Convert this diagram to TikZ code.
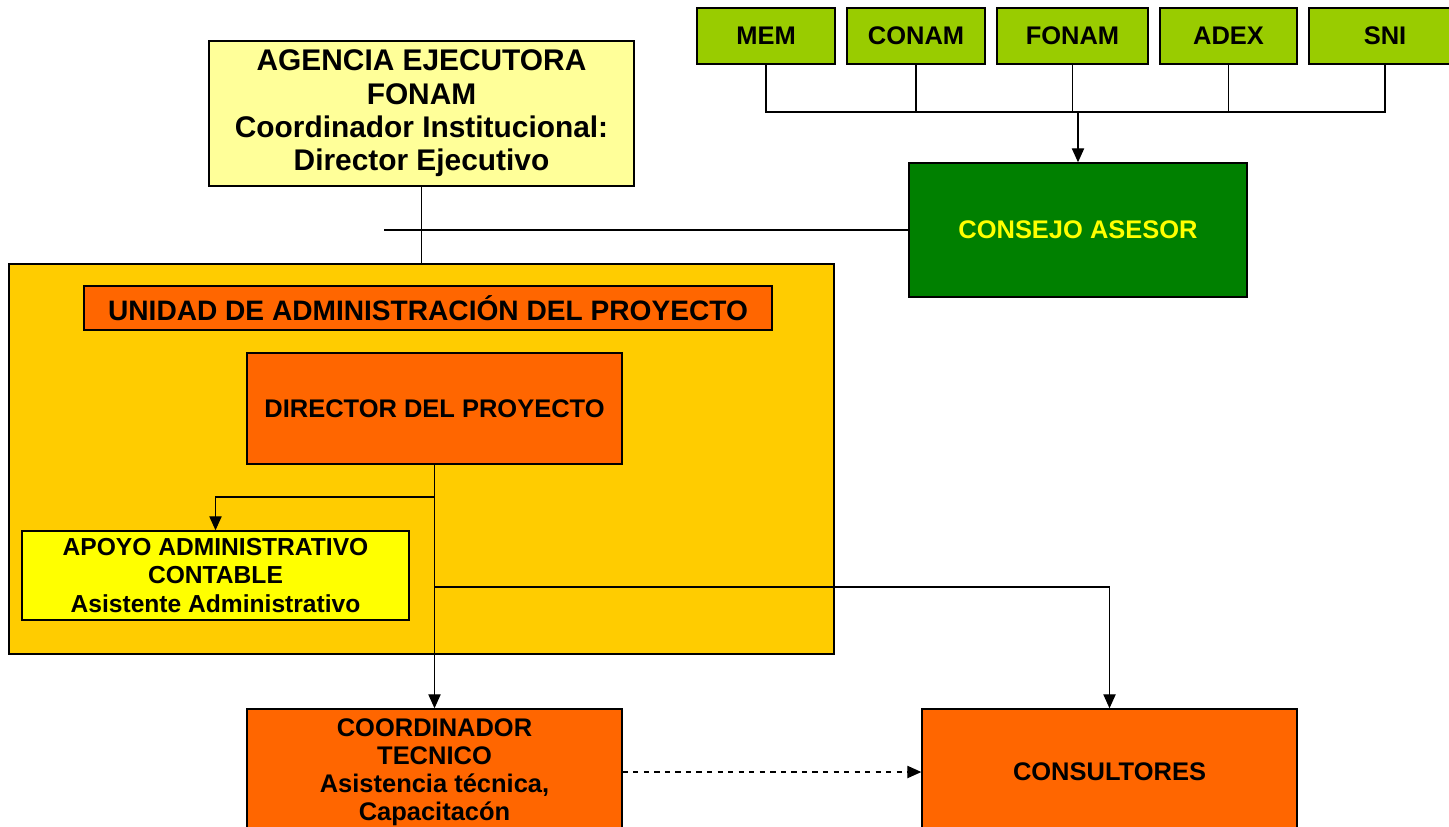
\documentclass[tikz,border=0pt]{standalone}
\usepackage{fontspec}
\setmainfont{Liberation Sans}
\usepackage{tikz}
\usetikzlibrary{positioning,arrows.meta,shapes,calc}

\definecolor{myorange}{RGB}{255,102,0}
\definecolor{mygold}{RGB}{255,204,0}
\definecolor{mylime}{RGB}{153,204,0}
\definecolor{mygreen}{RGB}{0,128,0}
\definecolor{mycream}{RGB}{255,255,153}
\definecolor{myyellow}{RGB}{255,255,0}

\begin{document}
\begin{tikzpicture}[
x=0.02cm, y=-0.02cm,
mybox/.style={
  draw=black,
  line width=0.8pt,
  align=center,
  inner sep=2pt,
  font=\fontsize{14.5}{16}\selectfont\bfseries},
mytop/.style={
  mybox,
  fill=mylime,
  minimum height=1.12cm},
myline/.style={
  line width=0.8pt},
myarrow/.style={
  myline,
  -{Triangle[length=8pt,width=7pt]}}
]
\useasboundingbox (0,0) rectangle (1449,827);
\clip (0,0) rectangle (1449,827);
% members of the council
\node[mytop, minimum width=2.76cm] (MEM) at (766,36) {MEM};
\node[mytop, minimum width=2.76cm] (CONAM) at (916,36) {CONAM};
\node[mytop, minimum width=3.02cm] (FONAM) at (1072.5,36) {FONAM};
\node[mytop, minimum width=2.74cm] (ADEX) at (1228.5,36) {ADEX};
\node[mytop, minimum width=3.04cm] (SNI) at (1385,36) {SNI};
\node[mybox, fill=mygreen, text=myyellow, minimum width=6.76cm,
  minimum height=2.68cm] (Consejo) at (1078,230) {CONSEJO ASESOR};
\node[mybox, fill=mycream, minimum width=8.5cm, minimum height=2.9cm,
  font=\fontsize{17}{19}\selectfont\bfseries] (Agencia) at (421.5,113.5)
  {AGENCIA EJECUTORA\\FONAM\\Coordinador Institucional:\\Director Ejecutivo};
% project unit
\node[mybox, fill=mygold, minimum width=16.5cm, minimum height=7.8cm]
  (UAP) at (421.5,459) {};
\node[mybox, fill=myorange, minimum width=13.76cm, minimum height=0.88cm,
  font=\fontsize{16}{18}\selectfont\bfseries] (Unidad) at (428,308)
  {UNIDAD DE ADMINISTRACIÓN DEL PROYECTO};
\node[mybox, fill=myorange, minimum width=7.5cm, minimum height=2.22cm]
  (Director) at (434.5,408.5) {DIRECTOR DEL PROYECTO};
\node[mybox, fill=myyellow, minimum width=7.74cm, minimum height=1.78cm,
  font=\fontsize{14}{16}\selectfont\bfseries] (Apoyo) at (215.5,575.5)
  {APOYO ADMINISTRATIVO\\CONTABLE\\Asistente Administrativo};
\node[mybox, fill=myorange, minimum width=7.5cm, minimum height=2.52cm]
  (Coord) at (434.5,772)
  {COORDINADOR\\TECNICO\\Asistencia técnica,\\Capacitacón};
\node[mybox, fill=myorange, minimum width=7.5cm, minimum height=2.52cm]
  (Consult) at (1109.5,772) {CONSULTORES};

\coordinate (Bus) at (1078,112);
\coordinate (Tick) at (384,230);
\coordinate (JA) at (434.5,497);
\coordinate (JB) at (434.5,587);
\draw[myline] (MEM.south) |- (SNI.south |- Bus) -- (SNI.south);
\foreach \Nodo in {CONAM,FONAM,ADEX}
  \draw[myline] (\Nodo.south) -- (\Nodo.south |- Bus);
\draw[myarrow] (Bus) -- (Consejo.north);
\draw[myline] (Agencia.south) -- (Agencia.south |- UAP.north);
\draw[myline] (Tick) -- (Consejo.west);
\draw[myarrow] (Director.south) -- (Coord.north);
\draw[myarrow] (JA) -| (Apoyo.north);
\draw[myarrow] (JB) -| (Consult.north);
\draw[myarrow, dashed] (Coord.east) -- (Consult.west);
\end{tikzpicture}
\end{document}
